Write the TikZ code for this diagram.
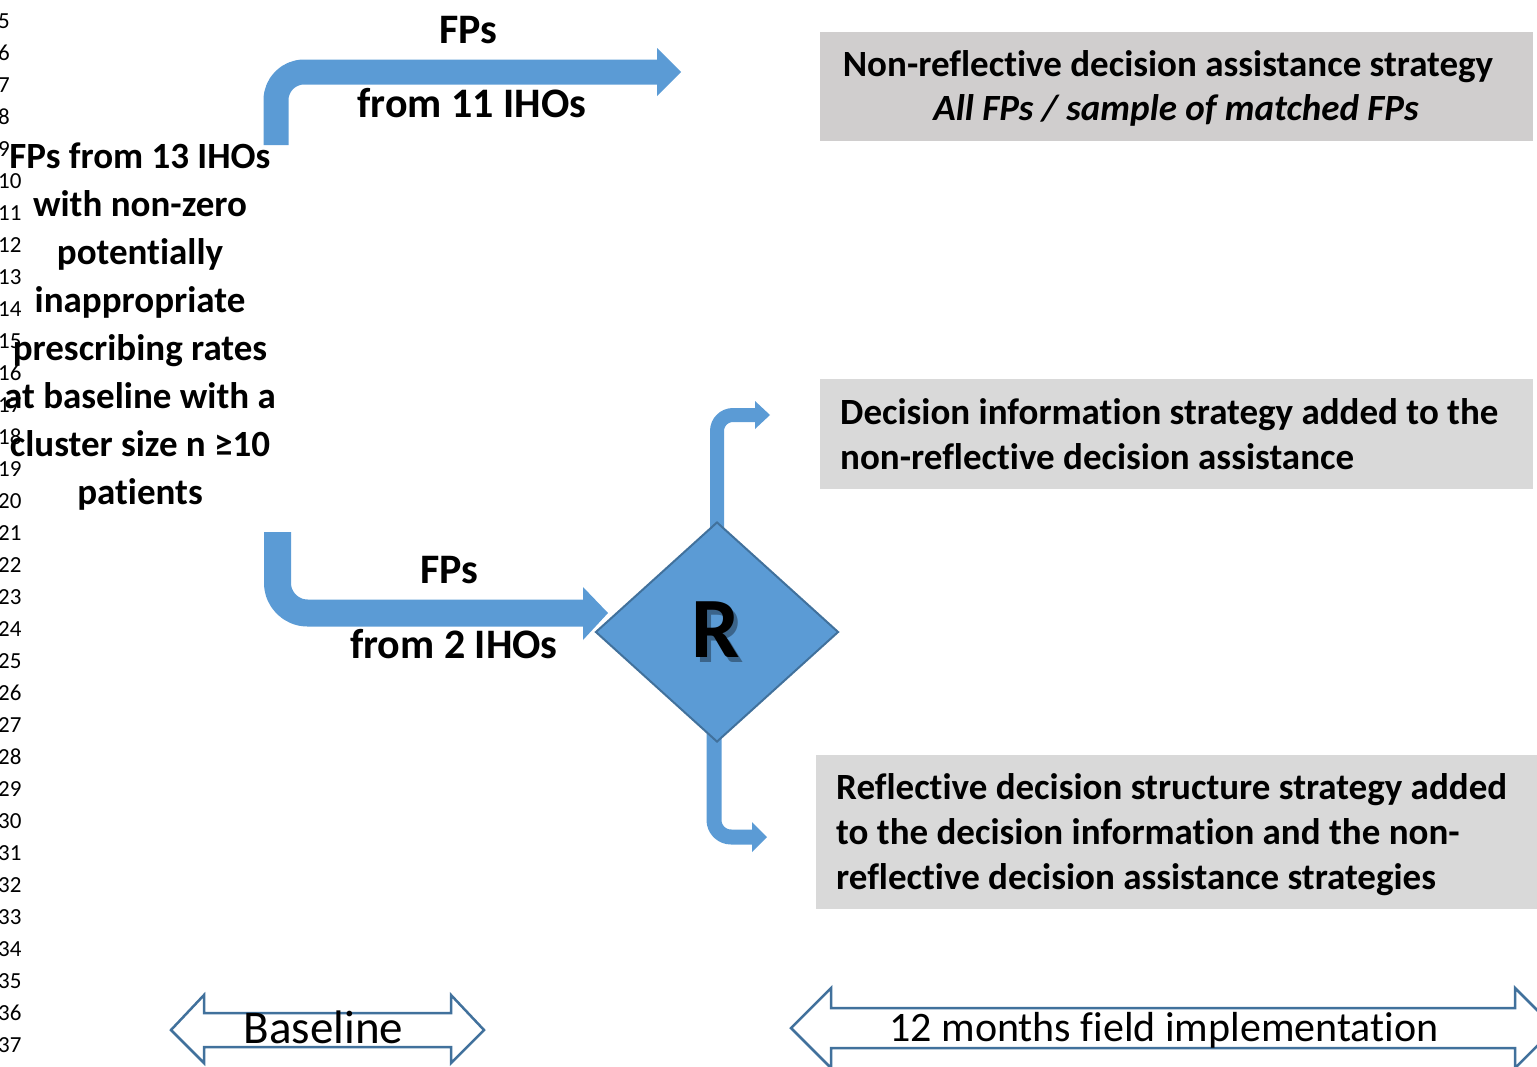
\documentclass[tikz,border=0pt]{standalone}
\usepackage{fontspec}
\setmainfont{Carlito}[Ligatures=NoCommon, RawFeature=-clig, RawFeature=-calt, RawFeature=-dlig, RawFeature=-liga]
\usetikzlibrary{shapes.geometric}
\definecolor{flowblue}{HTML}{5B9BD5}
\definecolor{edgeblue}{HTML}{41719C}
\definecolor{boxgrayA}{HTML}{D0CECE}
\definecolor{boxgrayB}{HTML}{D9D9D9}
\begin{document}
\begin{tikzpicture}[x=1pt,y=-1pt,
  linenum/.style={inner sep=0, anchor=base west, font=\fontsize{23}{23}\selectfont},
  lefttext/.style={inner sep=0, anchor=base, font=\bfseries\fontsize{37}{37}\selectfont},
  flowlabel/.style={inner sep=0, anchor=base, font=\bfseries\fontsize{42}{42}\selectfont},
  boxtext/.style={inner sep=0, anchor=base west, font=\bfseries\fontsize{37}{37}\selectfont},
  boxtextc/.style={inner sep=0, anchor=base, font=\bfseries\fontsize{37}{37}\selectfont},
  graybox/.style={anchor=north west, inner sep=0, draw=none},
  flow/.style={draw=flowblue, line cap=butt, line join=round},
  flowhead/.style={fill=flowblue, draw=none},
  timeline/.style={draw=edgeblue, fill=white, line width=2.5, line join=miter},
  timetext/.style={inner sep=0, anchor=base}
]
\useasboundingbox (0,0) rectangle (1537,1066);
\clip (0,0) rectangle (1537,1066);

% line numbers
\foreach \n in {5,...,37}{
  \node[linenum] (ln\n) at (-2,{28+32.03*(\n-5)}) {\n};
}

% left text
\node[lefttext] (t1) at (140,168) {FPs from 13 IHOs};
\node[lefttext] (t2) at (140,216) {with non-zero};
\node[lefttext] (t3) at (140,264) {potentially};
\node[lefttext] (t4) at (140,312) {inappropriate};
\node[lefttext] (t5) at (140,360) {prescribing rates};
\node[lefttext] (t6) at (140,408) {at baseline with a};
\node[lefttext] (t7) at (140,456) {cluster size n ≥10};
\node[lefttext] (t8) at (140,504) {patients};

% gray boxes
\node[graybox, fill=boxgrayA, minimum width=713, minimum height=109] (box1) at (820,32) {};
\node[graybox, fill=boxgrayB, minimum width=713, minimum height=110] (box2) at (820,379) {};
\node[graybox, fill=boxgrayB, minimum width=721, minimum height=154] (box3) at (816,755) {};

\node[boxtextc] (b1a) at (1168,76) {Non-reflective decision assistance strategy};
\node[boxtextc] (b1b) at (1176,120) {\itshape All FPs / sample of matched FPs};
\node[boxtext] (b2a) at (840,424) {Decision information strategy added to the};
\node[boxtext] (b2b) at (840,469) {non-reflective decision assistance};
\node[boxtext] (b3a) at (836,799) {Reflective decision structure strategy added};
\node[boxtext] (b3b) at (836,844) {to the decision information and the non-};
\node[boxtext] (b3c) at (836,889) {reflective decision assistance strategies};

% top flow arrow
\coordinate (f1s) at (276,145);
\coordinate (f1b) at (658,72);
\coordinate (f1t) at (681,72);
\draw[flow, line width=25, rounded corners=28] (f1s) |- (f1b);
\fill[flowhead] (657,48) -- (f1t) -- (657,96) -- cycle;
\node[flowlabel] (fp1) at (468,43) {FPs};
\node[flowlabel] (fr1) at (472,117) {from 11 IHOs};

% bottom flow arrow
\coordinate (f2s) at (277.5,532);
\coordinate (f2b) at (584,613);
\coordinate (f2t) at (608,613);
\draw[flow, line width=27, rounded corners=30] (f2s) |- (f2b);
\fill[flowhead] (583,587) -- (f2t) -- (583,640) -- cycle;
\node[flowlabel] (fp2) at (449,583) {FPs};
\node[flowlabel] (fr2) at (454,658) {from 2 IHOs};

% randomisation diamond position
\coordinate (Rc) at (717,632);

% upper small arrow
\coordinate (u1s) at (717,560);
\coordinate (u1b) at (756,415);
\coordinate (u1t) at (770,415);
\draw[flow, line width=14, rounded corners=16] (u1s) |- (u1b);
\fill[flowhead] (755,401) -- (u1t) -- (755,429) -- cycle;

% lower small arrow
\coordinate (d1s) at (714,700);
\coordinate (d1b) at (753,837);
\coordinate (d1t) at (767,837);
\draw[flow, line width=15, rounded corners=17] (d1s) |- (d1b);
\fill[flowhead] (752,822) -- (d1t) -- (752,852) -- cycle;

% diamond
\node[diamond, draw=edgeblue, fill=flowblue, line width=2, minimum width=243, minimum height=220, inner sep=0] (R) at (Rc) {};
\node[inner sep=0, font=\bfseries\fontsize{86}{86}\selectfont, text=black, opacity=0.35] (Rs) at ([shift={(3,3)}]R.center) {R};
\node[inner sep=0, font=\bfseries\fontsize{86}{86}\selectfont] (Rl) at ([shift={(-1,-2)}]R.center) {R};

% timelines
\draw[timeline] (171,1030) -- (204,995) -- (204,1013) -- (451,1013) -- (451,995) -- (484,1030)
  -- (451,1063) -- (451,1047) -- (204,1047) -- (204,1063) -- cycle;
\node[timetext, font=\fontsize{47}{47}\selectfont] (base) at (323.5,1043) {Baseline};

\draw[timeline] (791,1028) -- (831,988) -- (831,1008) -- (1515,1008) -- (1515,988) -- (1555,1028)
  -- (1515,1068) -- (1515,1048) -- (831,1048) -- (831,1068) -- cycle;
\node[timetext, font=\fontsize{42}{42}\selectfont] (impl) at (1164,1041) {12 months field implementation};
\end{tikzpicture}
\end{document}
